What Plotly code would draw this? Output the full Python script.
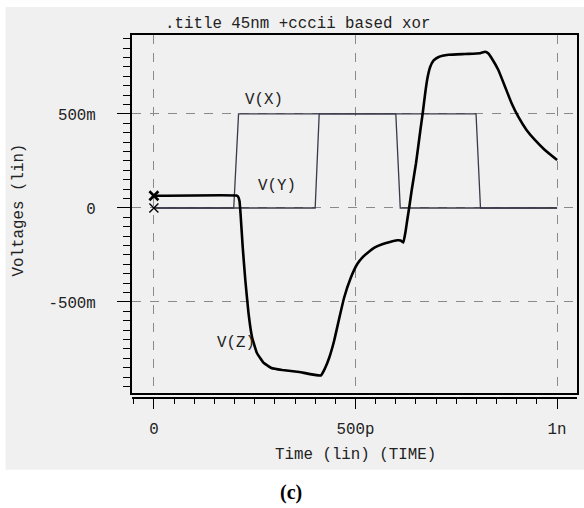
import plotly.graph_objects as go

# ---- data (time in ns, voltage in V) ----
t_x = [0, 0.198, 0.210, 0.799, 0.810, 1.0]
v_x = [0, 0, 0.5, 0.5, 0, 0]

t_y = [0, 0.400, 0.410, 0.600, 0.611, 1.0]
v_y = [0, 0, 0.5, 0.5, 0, 0]

t_z = [0, 0.2042, 0.2086, 0.2123, 0.2148, 0.2202, 0.2267, 0.2346, 0.2432, 0.2556, 0.2728,
       0.2914, 0.3185, 0.3605, 0.4141, 0.4247, 0.4346, 0.4469, 0.4593, 0.4716, 0.4881,
       0.5044, 0.5185, 0.5333, 0.5481, 0.5662, 0.5852, 0.6032, 0.6116, 0.6185, 0.6240,
       0.6284, 0.6338, 0.6395, 0.6501, 0.6610, 0.6667, 0.6733, 0.6790, 0.6852, 0.6938,
       0.7062, 0.7309, 0.7721, 0.8091, 0.8215, 0.8296, 0.8378, 0.8543, 0.8709, 0.8872,
       0.9037, 0.9242, 0.9449, 0.9696, 1.0]
v_z = [0.065, 0.0665, 0.0612, 0.0372, -0.0266, -0.2059, -0.3830, -0.5585, -0.6846, -0.7713,
       -0.8245, -0.8511, -0.8617, -0.8723, -0.8910, -0.8511, -0.7979, -0.7074, -0.5904,
       -0.4787, -0.3723, -0.2979, -0.2606, -0.2324, -0.2101, -0.1931, -0.1809, -0.1718,
       -0.1729, -0.1835, -0.1277, -0.0638, 0.0106, 0.0957, 0.2378, 0.4149, 0.5037, 0.6170,
       0.6968, 0.7500, 0.7846, 0.8032, 0.8149, 0.8191, 0.8229, 0.8309, 0.8218, 0.7963,
       0.7340, 0.6452, 0.5569, 0.4856, 0.4149, 0.3617, 0.3085, 0.2553]

x_tickvals = [0, 0.5, 1.0]
x_ticktext = ["0", "500p", "1n"]
y_tickvals = [-0.5, 0, 0.5]
y_ticktext = ["-500m", "0", "500m"]

labels = [("V(X)", 0.274, 0.574), ("V(Y)", 0.306, 0.117), ("V(Z)", 0.204, -0.718)]

x_range = [-0.0543, 1.0494]
y_range = [-0.984, 0.920]

MONO = "Liberation Mono"
FS = 15.8
TRACE_COL = "#3a3a4a"

fig = go.Figure()
fig.add_trace(go.Scatter(x=t_x, y=v_x, mode="lines", line=dict(color=TRACE_COL, width=1.3),
                         showlegend=False, hoverinfo="skip"))
fig.add_trace(go.Scatter(x=t_y, y=v_y, mode="lines", line=dict(color=TRACE_COL, width=1.3),
                         showlegend=False, hoverinfo="skip"))
fig.add_trace(go.Scatter(x=t_z, y=v_z, mode="lines",
                         line=dict(color="black", width=2.6, shape="spline", smoothing=0.35),
                         showlegend=False, hoverinfo="skip"))
# start markers
fig.add_trace(go.Scatter(x=[t_x[0]], y=[v_x[0]], mode="markers",
                         marker=dict(symbol="x-thin", size=9, line=dict(width=1.3, color="black")),
                         showlegend=False, hoverinfo="skip"))
fig.add_trace(go.Scatter(x=[t_z[0]], y=[v_z[0]], mode="markers",
                         marker=dict(symbol="x-thin", size=9, line=dict(width=2.6, color="black")),
                         showlegend=False, hoverinfo="skip"))
# invisible trace for bottom axis
fig.add_trace(go.Scatter(x=[t_x[0]], y=[v_x[0]], xaxis="x2", mode="markers",
                         marker=dict(opacity=0), showlegend=False, hoverinfo="skip"))

for txt, lx, ly in labels:
    fig.add_annotation(x=lx, y=ly, xref="x", yref="y", text=txt, showarrow=False,
                       font=dict(family=MONO, size=FS, color="#222"))

# text annotations in paper coords
fig.add_annotation(x=0.069, y=1.030, xref="paper", yref="paper", xanchor="left", yanchor="middle",
                   text=".title 45nm +cccii based xor", showarrow=False,
                   font=dict(family=MONO, size=FS, color="#222"))
fig.add_annotation(x=0.503, y=-0.157, xref="paper", yref="paper", xanchor="center", yanchor="middle",
                   text="Time (lin) (TIME)", showarrow=False,
                   font=dict(family=MONO, size=FS, color="#222"))
fig.add_annotation(x=-0.253, y=0.518, xref="paper", yref="paper", xanchor="center", yanchor="middle",
                   text="Voltages (lin)", textangle=-90, showarrow=False,
                   font=dict(family=MONO, size=FS, color="#222"))
fig.add_annotation(x=0.358, y=-0.259, xref="paper", yref="paper", xanchor="center", yanchor="middle",
                   text="<b>(c)</b>", showarrow=False,
                   font=dict(family="Liberation Serif", size=20, color="black"))

# gray panel background
fig.add_shape(type="rect", xref="paper", yref="paper", x0=-0.284, x1=1.02, y0=-0.198, y1=1.077,
              fillcolor="#f0f0f0", line=dict(width=0), layer="below")

fig.update_layout(
    width=584, height=508,
    margin=dict(l=132, r=5, t=35, b=110),
    paper_bgcolor="white",
    plot_bgcolor="#f0f0f0",
    xaxis=dict(range=x_range, domain=[0, 1], anchor="y", tickmode="array", tickvals=x_tickvals,
               showticklabels=False, ticks="", showgrid=True, gridcolor="#8a8a8a", griddash="dash",
               gridwidth=1, showline=True, linecolor="black", linewidth=1.5, mirror=True, zeroline=False),
    xaxis2=dict(range=x_range, overlaying="x", anchor="free", position=0, side="bottom",
                tickmode="array", tickvals=x_tickvals, ticktext=x_ticktext, ticks="outside",
                ticklen=10, tickwidth=1.2, tickcolor="black", showline=True, linecolor="black",
                linewidth=1.5, showgrid=False, zeroline=False, ticklabelstandoff=6,
                tickfont=dict(family=MONO, size=FS, color="#222"),
                minor=dict(tickmode="linear", tick0=0, dtick=0.05, ticks="outside", ticklen=5,
                           tickwidth=1.2, tickcolor="black", showgrid=False)),
    yaxis=dict(range=y_range, domain=[0.0138, 1], anchor="x", tickmode="array", tickvals=y_tickvals,
               ticktext=y_ticktext, ticks="outside", ticklen=13, tickwidth=1.2, tickcolor="black",
               showgrid=True, gridcolor="#8a8a8a", griddash="dash", gridwidth=1,
               showline=True, linecolor="black", linewidth=2, mirror=True, zeroline=False,
               ticklabelstandoff=18, tickfont=dict(family=MONO, size=FS, color="#222"),
               minor=dict(tickmode="linear", tick0=0, dtick=0.05, ticks="outside", ticklen=7,
                          tickwidth=1.2, tickcolor="black", showgrid=False)),
)

fig.write_html("out.html", config={"displayModeBar": False},
               post_script="document.body.style.margin='0';document.body.style.overflow='hidden';")
